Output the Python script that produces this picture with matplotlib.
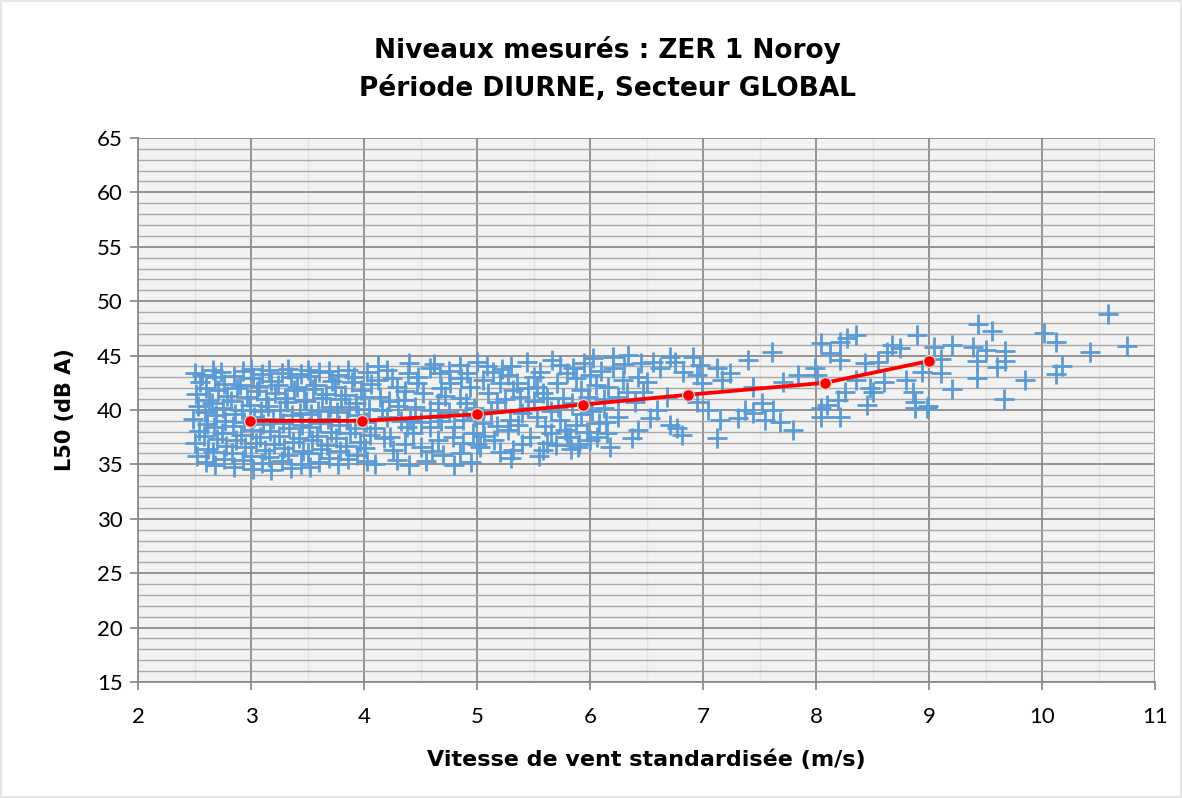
import matplotlib.pyplot as plt
from matplotlib.ticker import MultipleLocator

plt.rcParams['font.family'] = ['Lato', 'DejaVu Sans']

# L50 measurements vs standardised wind speed (dense low-wind part)
wind_dense = [2.52, 2.50, 2.54, 2.49, 2.53, 2.51, 2.55, 2.50,
              2.60, 2.62, 2.58, 2.61, 2.59, 2.63, 2.60, 2.57,
              2.68, 2.66, 2.70, 2.67, 2.69, 2.65, 2.71, 2.68, 2.66,
              2.76, 2.78, 2.74, 2.77, 2.75, 2.79, 2.76, 2.73,
              2.85, 2.83, 2.87, 2.84, 2.86, 2.82, 2.88, 2.85,
              2.93, 2.95, 2.91, 2.94, 2.92, 2.96, 2.90, 2.93,
              3.02, 3.00, 3.04, 3.01, 3.03, 2.99, 3.05, 3.02, 3.00,
              3.10, 3.12, 3.08, 3.11, 3.09, 3.13, 3.07, 3.10,
              3.18, 3.16, 3.20, 3.17, 3.19, 3.15, 3.21, 3.18, 3.16,
              3.27, 3.29, 3.25, 3.28, 3.26, 3.30, 3.24, 3.27,
              3.35, 3.33, 3.37, 3.34, 3.36, 3.32, 3.38, 3.35, 3.33,
              3.44, 3.46, 3.42, 3.45, 3.43, 3.47, 3.41, 3.44,
              3.52, 3.50, 3.54, 3.51, 3.53, 3.49, 3.55, 3.52, 3.50,
              3.60, 3.62, 3.58, 3.61, 3.59, 3.63, 3.57, 3.60,
              3.69, 3.67, 3.71, 3.68, 3.70, 3.66, 3.72, 3.69,
              3.77, 3.79, 3.75, 3.78, 3.76, 3.80, 3.74, 3.77,
              3.86, 3.84, 3.88, 3.85, 3.87, 3.83, 3.89, 3.86,
              3.94, 3.96, 3.92, 3.95, 3.93, 3.97, 3.91,
              4.03, 4.01, 4.05, 4.02, 4.04, 4.00, 4.06, 4.03]
l50_dense = [35.8, 37.0, 38.1, 39.2, 40.4, 41.5, 42.6, 43.4,
             35.2, 36.4, 37.6, 38.7, 39.8, 40.9, 42.0, 43.2,
             34.9, 36.1, 37.3, 38.4, 39.5, 40.6, 41.8, 43.0, 43.7,
             35.5, 36.7, 37.9, 39.0, 40.2, 41.3, 42.4, 43.5,
             34.8, 36.0, 37.2, 38.5, 39.6, 40.8, 42.0, 43.1,
             35.4, 36.6, 37.7, 38.9, 40.0, 41.2, 42.3, 43.6,
             34.6, 35.8, 37.0, 38.2, 39.4, 40.5, 41.7, 42.9, 43.8,
             35.1, 36.3, 37.5, 38.7, 39.9, 41.0, 42.2, 43.3,
             34.5, 35.7, 36.9, 38.1, 39.2, 40.4, 41.6, 42.7, 43.7,
             35.3, 36.5, 37.6, 38.8, 40.0, 41.1, 42.3, 43.4,
             34.7, 35.9, 37.1, 38.3, 39.5, 40.7, 41.8, 43.0, 43.8,
             35.0, 36.2, 37.4, 38.6, 39.7, 40.9, 42.1, 43.3,
             34.8, 36.0, 37.2, 38.4, 39.6, 40.8, 41.9, 43.1, 43.7,
             35.2, 36.4, 37.6, 38.8, 39.9, 41.1, 42.3, 43.5,
             35.6, 36.8, 38.0, 39.2, 40.3, 41.5, 42.7, 43.6,
             35.0, 36.2, 37.4, 38.6, 39.8, 41.0, 42.1, 43.2,
             35.5, 36.7, 37.9, 39.1, 40.3, 41.4, 42.6, 43.7,
             35.9, 37.1, 38.3, 39.5, 40.6, 41.8, 43.0,
             35.3, 36.5, 37.7, 38.9, 40.1, 41.2, 42.4, 43.5]

# 4 to 6 m/s
wind_mid = [4.20, 4.39, 4.58, 4.67, 4.85, 4.91, 5.09, 5.14, 5.27, 5.44,
            5.66, 5.73, 5.80, 5.56, 4.12, 4.29, 4.47, 4.76, 4.94, 5.20,
            5.35, 5.53, 5.71, 4.14, 4.35, 4.52, 4.65, 4.85, 5.18, 5.38,
            5.62, 5.76, 4.20, 4.41, 4.65, 4.88, 5.05, 5.29, 5.53, 5.73,
            4.23, 4.43, 4.65, 4.79, 4.96, 5.27, 5.47, 5.65, 5.80, 4.26,
            4.50, 4.85, 5.03, 5.32, 5.58, 4.29,
            4.48, 4.75, 4.97, 5.12, 5.45, 5.60, 4.58, 4.38, 4.10, 4.16,
            4.80, 5.00, 5.30, 5.40, 5.70, 4.70, 4.10, 4.55, 4.95, 4.40,
            4.62, 5.22, 5.50, 5.10, 5.25, 4.58, 4.30, 4.75, 5.40, 5.65,
            5.15, 5.00, 5.85, 5.88, 5.92, 5.84, 5.92, 5.88, 5.95, 6.00,
            6.05, 5.98, 6.02, 6.08, 5.97, 6.10, 6.12, 5.83, 5.90]
l50_mid = [43.7, 43.4, 43.9, 43.4, 44.1, 43.4, 44.0, 43.5, 43.2, 44.4,
           44.6, 44.1, 43.4, 43.5, 42.8, 42.1, 42.5, 42.5, 42.1, 42.5,
           42.5, 42.1, 42.5, 41.2, 40.9, 41.6, 40.65, 41.1, 40.7, 41.2,
           41.1, 41.1, 39.4, 39.1, 39.4, 39.1, 38.8, 39.1, 39.4, 39.1,
           37.5, 37.9, 37.25, 37.5, 37.9, 38.2, 37.5, 37.9, 37.5, 36.3,
           36.6, 36.05, 36.6, 36.3, 36.3, 35.4,
           43.0, 43.6, 40.2, 39.9, 40.2, 38.5, 38.4, 38.4, 38.3, 40.0,
           38.4, 44.4, 44.0, 36.9, 36.8, 35.9, 35.0, 35.3, 35.2, 44.3,
           44.2, 43.8, 43.0, 41.6, 41.0, 40.0, 40.4, 39.8, 39.7, 39.9,
           37.2, 36.9, 43.9, 42.9, 41.8, 40.6, 39.6, 38.6, 44.3, 43.2,
           42.3, 41.2, 39.9, 38.8, 38.0, 43.6, 41.0, 36.4, 36.9]

wind_mid2 = [4.12, 4.25, 4.36, 4.22, 4.45, 4.33, 4.50, 4.18, 4.36, 4.60,
             4.68, 4.86, 4.72, 4.90, 4.68, 4.98, 4.88, 5.06, 5.18, 5.05,
             5.32, 5.45, 5.58, 5.50, 5.36, 5.62, 5.78, 5.72, 5.30, 5.55,
             5.20, 4.40, 4.80, 6.06, 6.14, 6.20, 6.25, 6.30, 6.40, 6.45]
l50_mid2 = [44.0, 42.9, 41.7, 40.8, 40.3, 39.0, 38.9, 37.4, 36.9, 36.2,
            42.0, 42.9, 41.3, 40.6, 39.0, 39.4, 37.0, 37.6, 38.5, 42.8,
            41.8, 42.0, 41.6, 40.8, 38.6, 37.0, 38.2, 40.3, 35.6, 35.8,
            36.1, 34.9, 34.9, 37.5, 38.9, 43.9, 41.2, 44.2, 40.7, 44.3]

# 6 to 11 m/s, sparser readings
wind_high = [6.03, 6.20, 6.34, 6.56, 6.71, 6.75, 6.91, 6.97, 7.12, 7.24,
             6.95, 6.82, 6.62, 6.42, 6.50, 6.29, 6.16, 6.33, 6.47, 6.68,
             6.99, 7.17, 6.95, 7.04, 7.15, 7.37, 7.31, 7.44, 7.12, 6.71,
             6.77, 6.81, 6.42, 6.37, 6.25, 6.12, 6.15, 6.18, 6.00, 5.89,
             5.82, 6.59, 6.53,
             7.61, 7.40, 8.04, 8.27, 8.35, 8.21, 8.89, 8.67, 8.74, 8.63,
             8.12, 8.21, 8.43, 8.55, 7.99, 8.01, 7.84, 7.71, 8.35, 8.60,
             8.80, 8.94, 8.48, 8.50, 8.26, 8.86, 7.44, 8.19, 8.10, 8.04,
             8.45, 8.88, 8.88, 8.98, 8.21, 8.04, 7.52, 7.62, 7.55, 7.68,
             7.80,
             10.58, 9.43, 9.56, 10.02, 10.12, 9.20, 9.04, 9.39, 9.50, 9.67,
             10.42, 10.75, 9.11, 9.42, 9.67, 10.18, 9.60, 9.11, 10.12, 9.42,
             9.85, 9.20, 9.66, 8.99]
l50_high = [44.8, 44.9, 45.05, 44.4, 44.9, 44.4, 44.9, 44.1, 43.9, 43.4,
            43.2, 43.5, 43.9, 43.0, 42.6, 42.8, 42.1, 41.65, 41.65, 41.2,
            42.5, 42.8, 40.7, 40.0, 39.1, 40.0, 39.3, 39.7, 37.4, 38.6,
            38.35, 37.7, 38.2, 37.4, 39.4, 40.2, 37.9, 36.6, 37.25, 36.6,
            37.5, 40.0, 39.3,
            45.3, 44.6, 46.2, 46.6, 46.9, 46.25, 46.9, 46.0, 45.7, 45.3,
            45.2, 44.6, 44.3, 44.4, 43.9, 43.2, 43.2, 42.6, 42.8, 42.6,
            42.8, 43.5, 42.0, 41.65, 41.65, 41.65, 42.1, 40.9, 40.5, 40.2,
            40.5, 40.7, 40.2, 40.2, 39.4, 39.4, 40.6, 40.0, 39.1, 38.9,
            38.2,
            48.8, 47.9, 47.3, 47.1, 46.25, 46.0, 45.8, 45.8, 45.5, 45.4,
            45.3, 45.9, 44.7, 44.5, 44.5, 44.0, 43.95, 43.4, 43.3, 42.9,
            42.8, 41.9, 41.0, 40.4]

# bin averages (one per wind speed class)
trend_wind = [2.99, 3.98, 5.0, 5.94, 6.87, 8.08, 9.0]
trend_l50 = [39.0, 39.0, 39.6, 40.5, 41.4, 42.5, 44.5]

wind = wind_dense + wind_mid + wind_mid2 + wind_high
l50 = l50_dense + l50_mid + l50_mid2 + l50_high

fig = plt.figure(figsize=(11.82, 7.98), dpi=100)
fig.patch.set_edgecolor('#e6e6e6')
fig.patch.set_linewidth(1.5)
ax = fig.add_axes([0.1168, 0.1454, 0.8604, 0.6817])
ax.set_facecolor('#f2f2f2')

ax.plot(wind, l50, '+', ms=15, mew=2.0, color='#5b9bd5', zorder=3)
ax.plot(trend_wind, trend_l50, '-o', color='#ff0000', lw=2.7, ms=8.5,
        mec='#d0d0d0', mew=1, zorder=4)

ax.set_xlim(2, 11)
ax.set_ylim(15, 65)
ax.xaxis.set_major_locator(MultipleLocator(1))
ax.xaxis.set_minor_locator(MultipleLocator(0.5))
ax.yaxis.set_major_locator(MultipleLocator(5))
ax.yaxis.set_minor_locator(MultipleLocator(1))

ax.set_axisbelow(True)
ax.grid(which='major', color='#8c8c8c', lw=1.3)
ax.grid(which='minor', axis='y', color='#a9a9a9', lw=1.0)
ax.grid(which='minor', axis='x', color='#e2e2e2', lw=1.0)

for side in ['top', 'right']:
    ax.spines[side].set_visible(False)
for side in ['left', 'bottom']:
    ax.spines[side].set_color('#8c8c8c')
    ax.spines[side].set_linewidth(1.3)

ax.tick_params(which='major', direction='out', length=6, width=1.3,
               color='#8c8c8c', labelsize=16, labelcolor='#000000')
ax.tick_params(axis='x', which='major', pad=12)
ax.tick_params(axis='y', which='major', pad=5)
ax.tick_params(which='minor', length=0)

bold = ['DejaVu Sans']
ax.set_xlabel('Vitesse de vent standardisée (m/s)', fontsize=16,
              fontweight='bold', family=bold)
ax.xaxis.set_label_coords(0.5, -0.125)
ax.set_ylabel('L50 (dB A)', fontsize=15, fontweight='bold', family=bold)
ax.yaxis.set_label_coords(-0.062, 0.5)

fig.text(0.514, 0.913, 'Niveaux mesurés : ZER 1 Noroy\nPériode DIURNE, Secteur GLOBAL',
         ha='center', va='center', fontsize=19, fontweight='bold',
         family=bold, linespacing=1.6)

fig.savefig('out.png', dpi=100)
